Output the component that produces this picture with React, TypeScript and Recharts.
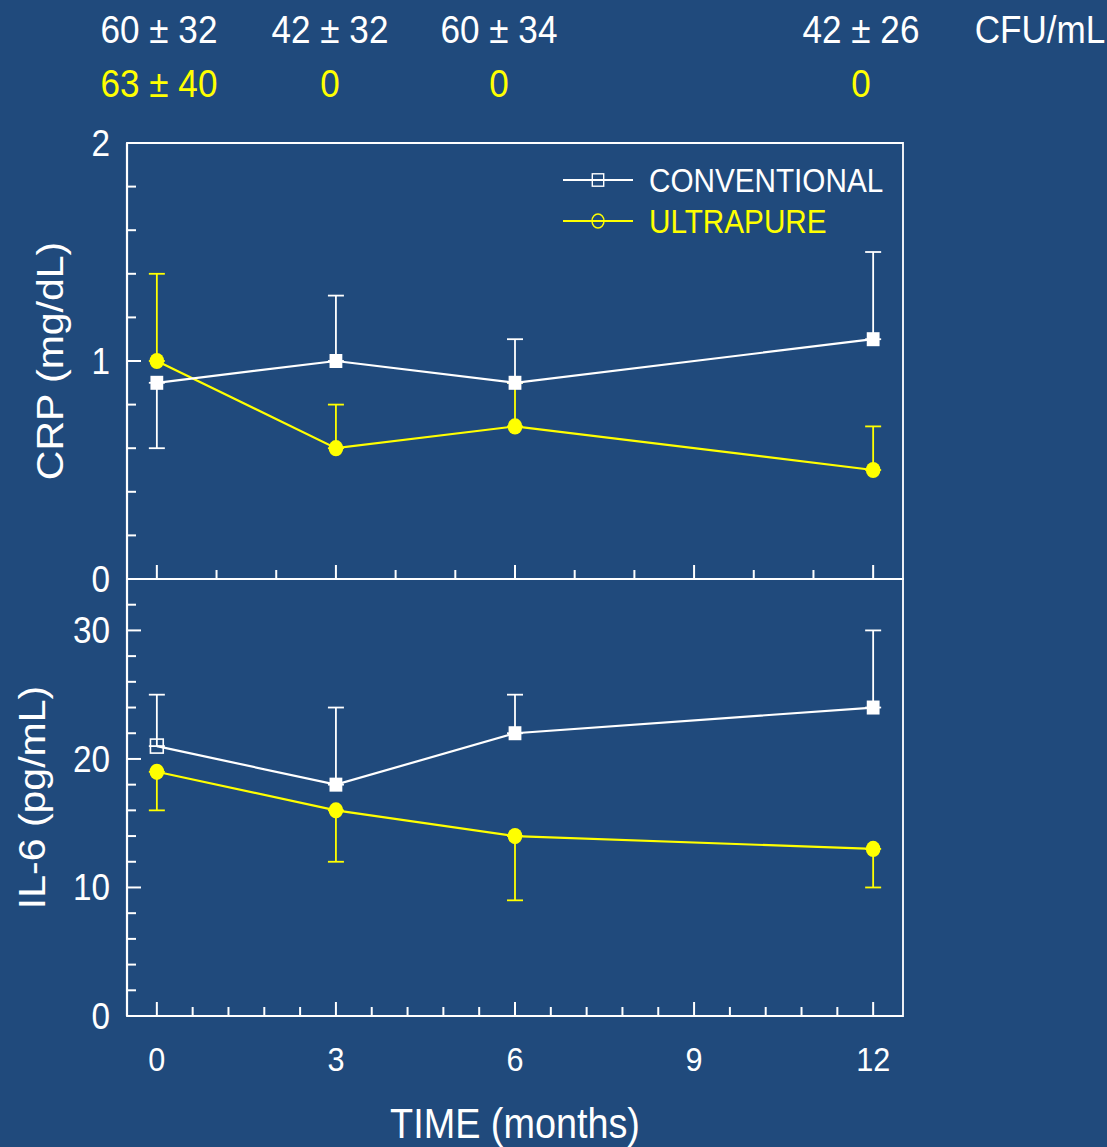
import React from "react";
import { LineChart, Line, XAxis, YAxis, ErrorBar, ReferenceArea, Legend } from "recharts";

// months of follow-up
const months = [0, 3, 6, 12];

// CRP (mg/dL)
const crpConventional = [0.9, 1.0, 0.9, 1.1];
const crpConventionalErr = [[0.3, 0], [0, 0.3], [0, 0.2], [0, 0.4]];
const crpUltrapure = [1.0, 0.6, 0.7, 0.5];
const crpUltrapureErr = [[0, 0.4], [0, 0.2], [0, 0.2], [0, 0.2]];

// IL-6 (pg/mL)
const il6Conventional = [21, 18, 22, 24];
const il6ConventionalErr = [[0, 4], [0, 6], [0, 3], [0, 6]];
const il6Ultrapure = [19, 16, 14, 13];
const il6UltrapureErr = [[3, 0], [4, 0], [5, 0], [3, 0]];

// bacterial counts shown above the panels
const cfuConventional = ["60 ± 32", "42 ± 32", "60 ± 34", "42 ± 26"];
const cfuUltrapure = ["63 ± 40", "0", "0", "0"];
const cfuUnit = "CFU/mL";

// ticks
const crpTicks = [0, 0.2, 0.4, 0.6, 0.8, 1, 1.2, 1.4, 1.6, 1.8, 2];
const crpLabels = [0, 1, 2];
const il6Ticks = [0, 2, 4, 6, 8, 10, 12, 14, 16, 18, 20, 22, 24, 26, 28, 30, 32, 34];
const il6Labels = [0, 10, 20, 30];
const monthTicksTop = [0, 1, 2, 3, 4, 5, 6, 7, 8, 9, 10, 11, 12];
const monthTicksBottom = [0, 0.6, 1.2, 1.8, 2.4, 3, 3.6, 4.2, 4.8, 5.4, 6, 6.6, 7.2, 7.8, 8.4, 9, 9.6, 10.2, 10.8, 11.4, 12];
const monthLabels = [0, 3, 6, 9, 12];

const CONV = "CONVENTIONAL";
const ULTRA = "ULTRAPURE";

const BG = "#204a7c";
const WHITE = "#ffffff";
const YELLOW = "#ffff00";
const SX = 0.9; // the original figure is squeezed horizontally
const FONT = "'Liberation Sans', Arial, Helvetica, sans-serif";

const crpData = months.map((m, i) => ({
  month: m,
  conv: crpConventional[i],
  convErr: crpConventionalErr[i],
  ultra: crpUltrapure[i],
  ultraErr: crpUltrapureErr[i],
}));

const il6Data = months.map((m, i) => ({
  month: m,
  conv: il6Conventional[i],
  convErr: il6ConventionalErr[i],
  ultra: il6Ultrapure[i],
  ultraErr: il6UltrapureErr[i],
}));

const IL6_OPEN_INDEX = 0; // first conventional IL-6 marker is drawn open

function makeXTick(labels: number[], showLabels: boolean) {
  return (props: any) => {
    const { x, y, payload } = props;
    const major = labels.includes(payload.value);
    return (
      <g>
        <line x1={x} x2={x} y1={y} y2={y - (major ? 14 : 9)} stroke={WHITE} strokeWidth={2} />
        {showLabels && major && (
          <text
            transform={`translate(${x},${y + 55}) scale(${SX},1)`}
            textAnchor="middle"
            fill={WHITE}
            fontSize={34}
          >
            {payload.value}
          </text>
        )}
      </g>
    );
  };
}

function makeYTick(labels: number[]) {
  return (props: any) => {
    const { x, y, payload } = props;
    const major = labels.includes(payload.value);
    return (
      <g>
        <line x1={x} x2={x + (major ? 14 : 9)} y1={y} y2={y} stroke={WHITE} strokeWidth={2} />
        {major && (
          <text
            transform={`translate(${x - 17},${y + 13}) scale(${SX},1)`}
            textAnchor="end"
            fill={WHITE}
            fontSize={37}
          >
            {payload.value}
          </text>
        )}
      </g>
    );
  };
}

function yTitle(text: string, dx: number) {
  return (props: any) => {
    const vb = props.viewBox;
    const bx = vb.x + vb.width + dx;
    const cy = vb.y + vb.height / 2;
    return (
      <text
        transform={`translate(${bx},${cy}) scale(${SX},1) rotate(-90)`}
        textAnchor="middle"
        fill={WHITE}
        fontSize={41}
      >
        {text}
      </text>
    );
  };
}

function xTitle(text: string) {
  return (props: any) => {
    const vb = props.viewBox;
    const cx = vb.x + vb.width / 2;
    return (
      <text
        transform={`translate(${cx},${vb.y + 122}) scale(${SX},1)`}
        textAnchor="middle"
        fill={WHITE}
        fontSize={42}
      >
        {text}
      </text>
    );
  };
}

function squareDot(openIndex: number | null) {
  return (props: any) => {
    const { cx, cy, index } = props;
    if (cx == null || cy == null) return <g key={`s-${index}`} />;
    const open = index === openIndex;
    return (
      <rect
        key={`s-${index}`}
        x={cx - 6.4}
        y={cy - 7}
        width={12.8}
        height={14}
        fill={open ? "none" : WHITE}
        stroke={WHITE}
        strokeWidth={open ? 1.6 : 0}
      />
    );
  };
}

function circleDot(props: any) {
  const { cx, cy, index } = props;
  if (cx == null || cy == null) return <g key={`c-${index}`} />;
  return <ellipse key={`c-${index}`} cx={cx} cy={cy} rx={7.3} ry={8.1} fill={YELLOW} />;
}

function LegendBox() {
  return (
    <svg width={345} height={90} style={{ display: "block" }}>
      <line x1={8} x2={78} y1={25} y2={25} stroke={WHITE} strokeWidth={2} />
      <rect x={37.3} y={18.8} width={11.4} height={12.4} fill="none" stroke={WHITE} strokeWidth={1.4} />
      <text transform={`translate(94,37) scale(${SX},1)`} fill={WHITE} fontSize={33} fontFamily={FONT}>
        {CONV}
      </text>
      <line x1={8} x2={78} y1={66} y2={66} stroke={YELLOW} strokeWidth={2} />
      <ellipse cx={43} cy={66} rx={6} ry={7} fill="none" stroke={YELLOW} strokeWidth={1.4} />
      <text transform={`translate(94,78) scale(${SX},1)`} fill={YELLOW} fontSize={33} fontFamily={FONT}>
        {ULTRA}
      </text>
    </svg>
  );
}

const cfuCenters = [159, 330, 499, 861];
const cfuUnitCenter = 1040;

export default function App() {
  return (
    <div
      style={{
        position: "absolute",
        left: 0,
        top: 0,
        width: 1107,
        height: 1147,
        background: BG,
        overflow: "hidden",
        fontFamily: FONT,
      }}
    >
      <svg width={1107} height={120} style={{ position: "absolute", left: 0, top: 0 }}>
        {cfuConventional.map((t, i) => (
          <text
            key={`cc-${i}`}
            transform={`translate(${cfuCenters[i]},43) scale(${SX},1)`}
            textAnchor="middle"
            fill={WHITE}
            fontSize={39}
            fontFamily={FONT}
          >
            {t}
          </text>
        ))}
        <text
          transform={`translate(${cfuUnitCenter},43) scale(${SX},1)`}
          textAnchor="middle"
          fill={WHITE}
          fontSize={39}
          fontFamily={FONT}
        >
          {cfuUnit}
        </text>
        {cfuUltrapure.map((t, i) => (
          <text
            key={`cu-${i}`}
            transform={`translate(${cfuCenters[i]},97) scale(${SX},1)`}
            textAnchor="middle"
            fill={YELLOW}
            fontSize={39}
            fontFamily={FONT}
          >
            {t}
          </text>
        ))}
      </svg>

      <div style={{ position: "absolute", left: 0, top: 0 }}>
        <LineChart width={1107} height={620} data={crpData} margin={{ top: 143, right: 204, bottom: 11, left: 97 }}>
          <XAxis
            dataKey="month"
            type="number"
            domain={[-0.5, 12.5]}
            ticks={monthTicksTop}
            interval={0}
            height={30}
            tickSize={0}
            tickMargin={0}
            tickLine={false}
            axisLine={{ stroke: WHITE, strokeWidth: 2.2 }}
            tick={makeXTick(monthLabels, false)}
          />
          <YAxis
            type="number"
            domain={[0, 2]}
            ticks={crpTicks}
            interval={0}
            width={30}
            tickSize={0}
            tickMargin={0}
            tickLine={false}
            axisLine={{ stroke: WHITE, strokeWidth: 2.2 }}
            tick={makeYTick(crpLabels)}
            label={yTitle("CRP (mg/dL)", -64)}
          />
          <ReferenceArea x1={-0.5} x2={12.5} y1={0} y2={2} fill="none" stroke={WHITE} strokeWidth={1.8} />
          <Legend
            layout="horizontal"
            verticalAlign="middle"
            align="center"
            wrapperStyle={{ left: 555, top: 155, width: 345, height: 90 }}
            content={() => <LegendBox />}
          />
          <Line
            name={ULTRA}
            dataKey="ultra"
            type="linear"
            stroke={YELLOW}
            strokeWidth={2.2}
            dot={circleDot}
            activeDot={false}
            isAnimationActive={false}
          >
            <ErrorBar dataKey="ultraErr" direction="y" width={8} stroke={YELLOW} strokeWidth={1.8} isAnimationActive={false} />
          </Line>
          <Line
            name={CONV}
            dataKey="conv"
            type="linear"
            stroke={WHITE}
            strokeWidth={2.2}
            dot={squareDot(null)}
            activeDot={false}
            isAnimationActive={false}
          >
            <ErrorBar dataKey="convErr" direction="y" width={8} stroke={WHITE} strokeWidth={1.8} isAnimationActive={false} />
          </Line>
        </LineChart>
      </div>

      <div style={{ position: "absolute", left: 0, top: 540 }}>
        <LineChart width={1107} height={607} data={il6Data} margin={{ top: 39, right: 204, bottom: 101, left: 97 }}>
          <XAxis
            dataKey="month"
            type="number"
            domain={[-0.5, 12.5]}
            ticks={monthTicksBottom}
            interval={0}
            height={30}
            tickSize={0}
            tickMargin={0}
            tickLine={false}
            axisLine={{ stroke: WHITE, strokeWidth: 2.2 }}
            tick={makeXTick(monthLabels, true)}
            label={xTitle("TIME (months)")}
          />
          <YAxis
            type="number"
            domain={[0, 34]}
            ticks={il6Ticks}
            interval={0}
            width={30}
            tickSize={0}
            tickMargin={0}
            tickLine={false}
            axisLine={{ stroke: WHITE, strokeWidth: 2.2 }}
            tick={makeYTick(il6Labels)}
            label={yTitle("IL-6 (pg/mL)", -82)}
          />
          <ReferenceArea x1={-0.5} x2={12.5} y1={0} y2={34} fill="none" stroke={WHITE} strokeWidth={1.8} />
          <Line
            name={ULTRA}
            dataKey="ultra"
            type="linear"
            stroke={YELLOW}
            strokeWidth={2.2}
            dot={circleDot}
            activeDot={false}
            isAnimationActive={false}
          >
            <ErrorBar dataKey="ultraErr" direction="y" width={8} stroke={YELLOW} strokeWidth={1.8} isAnimationActive={false} />
          </Line>
          <Line
            name={CONV}
            dataKey="conv"
            type="linear"
            stroke={WHITE}
            strokeWidth={2.2}
            dot={squareDot(IL6_OPEN_INDEX)}
            activeDot={false}
            isAnimationActive={false}
          >
            <ErrorBar dataKey="convErr" direction="y" width={8} stroke={WHITE} strokeWidth={1.8} isAnimationActive={false} />
          </Line>
        </LineChart>
      </div>
    </div>
  );
}
